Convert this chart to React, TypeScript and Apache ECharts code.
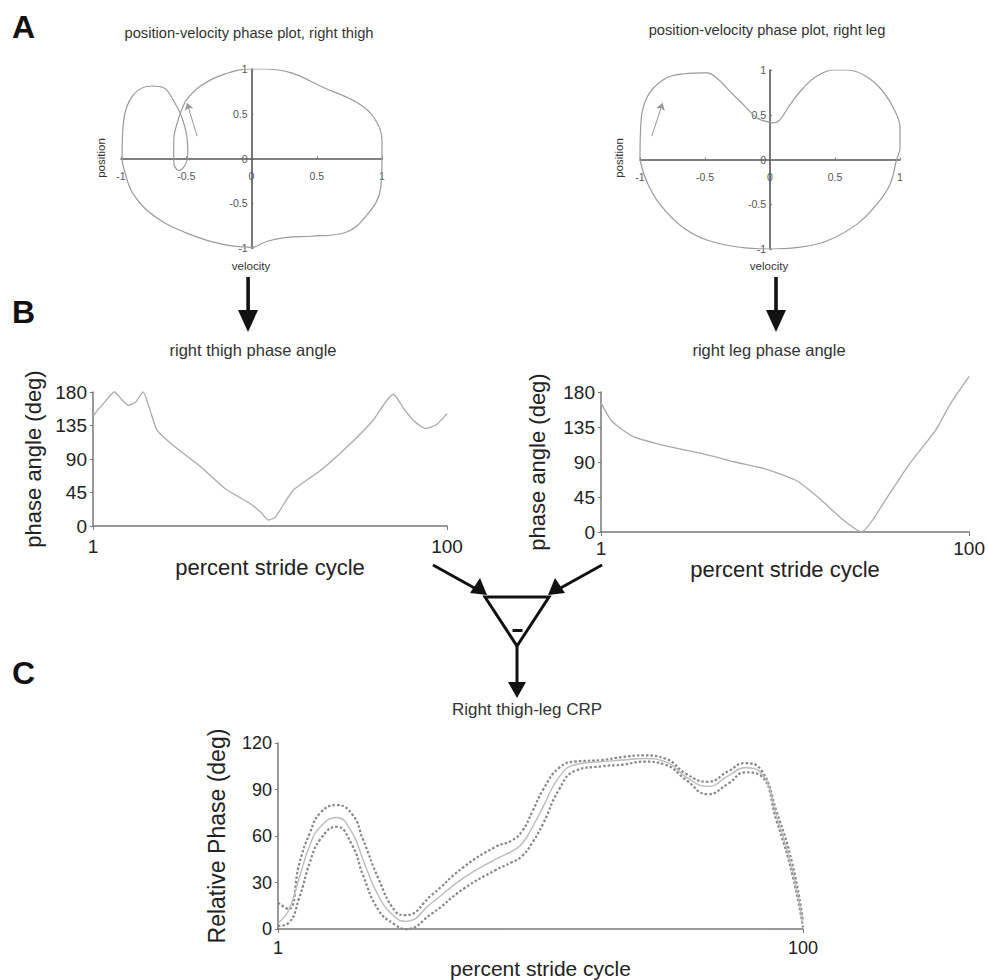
import React, { useEffect, useRef } from "react";
import * as echarts from "echarts";

// ---------- DATA ----------
// Panel A: position-velocity phase plot, right thigh (velocity, position)
const thighVel = [-0.506, -0.391, -0.212, 0, 0.095, 0.299, 0.555, 0.811, 0.939, 1.0, 1.0, 0.99, 0.887, 0.708, 0.453, 0.274, 0.12, 0, -0.212, -0.468, -0.724, -0.903, -0.98, -0.992, -0.98, -0.903, -0.762, -0.673, -0.596, -0.532, -0.494, -0.488, -0.506, -0.558, -0.596, -0.596, -0.565, -0.506];
const thighPos = [0.642, 0.81, 0.94, 1.0, 1.0, 0.959, 0.791, 0.623, 0.455, 0.194, 0, -0.328, -0.627, -0.832, -0.869, -0.881, -0.925, -0.993, -0.963, -0.851, -0.664, -0.403, -0.104, 0, 0.418, 0.716, 0.81, 0.791, 0.642, 0.455, 0.231, 0.045, -0.067, -0.134, -0.03, 0.194, 0.418, 0.642];
const thighArrow = [[-0.417, 0.25], [-0.494, 0.62]];

// Panel A: position-velocity phase plot, right leg
const legVel = [-1.0, -0.995, -0.949, -0.821, -0.667, -0.487, -0.41, -0.308, -0.205, -0.103, -0.051, 0.026, 0.077, 0.154, 0.256, 0.359, 0.487, 0.59, 0.718, 0.846, 0.949, 1.0, 1.0, 0.974, 0.923, 0.821, 0.667, 0.436, 0.205, 0, -0.205, -0.462, -0.667, -0.846, -0.949, -1.0];
const legPos = [0, 0.353, 0.688, 0.892, 0.955, 0.967, 0.911, 0.762, 0.613, 0.465, 0.435, 0.409, 0.446, 0.613, 0.799, 0.929, 1.0, 1.0, 0.948, 0.799, 0.576, 0.353, 0.13, 0, -0.279, -0.502, -0.725, -0.911, -0.985, -1.0, -0.985, -0.911, -0.762, -0.502, -0.242, 0];
const legArrow = [[-0.91, 0.26], [-0.826, 0.63]];

// Panel B: phase angles
const thighX = [1, 4, 7, 9, 11, 13, 15, 17, 19, 24, 31, 38, 45, 48, 50, 52, 57, 65, 72, 79, 85, 88, 91, 94, 97, 100];
const thighAngle = [148, 165, 180, 170, 162, 167, 180, 155, 128, 106, 80, 50, 30, 18, 8, 12, 48, 76, 106, 140, 177, 157, 140, 131, 136, 151];
const legX = [1, 4, 10, 20, 28, 37, 46, 54, 60, 66, 71, 78, 84, 91, 95, 100];
const legAngle = [166, 142, 122, 109, 101, 90, 80, 65, 42, 16, 0, 45, 88, 131, 165, 200];

// Panel C: continuous relative phase (mean and bands)
const crpX = [1, 3, 5, 7, 9, 12, 15, 17, 20, 23, 25, 30, 36, 42, 45, 47, 49, 51, 54, 57, 62, 66, 70, 74, 78, 82, 86, 89, 92, 95, 98, 100];
const crpMean = [4, 12, 33, 54, 66, 72, 62, 45, 21, 8, 5, 17, 33, 45, 50, 55, 66, 79, 98, 106, 108, 109, 110, 108, 98, 92, 99, 104, 101, 73, 38, 3];
const crpUpper = [17, 13, 42, 62, 75, 80, 74, 58, 32, 12, 9, 22, 40, 53, 57, 63, 76, 90, 104, 108, 109, 111, 112, 110, 100, 95, 102, 107, 103, 76, 42, 5];
const crpLower = [2, 4, 20, 43, 58, 66, 54, 35, 12, 3, 0, 10, 26, 38, 43, 47, 56, 68, 90, 102, 105, 106, 108, 106, 96, 87, 94, 101, 99, 70, 35, 1];
const strideTicks = [1, 100];

const FONT = "Liberation Sans, Arial, Helvetica, sans-serif";

const zip = (a: number[], b: number[]) => a.map((v, i) => [v, b[i]]);

function phaseAxes(gridIndex: number, xOffset: number, yOffset: number) {
  const common = {
    gridIndex,
    type: "value" as const,
    min: -1,
    max: 1,
    interval: 0.5,
    splitLine: { show: false },
    axisLine: { show: true, onZero: false, lineStyle: { color: "#555", width: 1.6 } },
    axisTick: { show: true, length: 2, inside: true, lineStyle: { color: "#777" } },
  };
  return {
    x: {
      ...common,
      offset: xOffset,
      axisLabel: { color: "#555", fontSize: 10.5, fontFamily: FONT, margin: 12, showMinLabel: true, showMaxLabel: true },
    },
    y: {
      ...common,
      offset: yOffset,
      axisLabel: { color: "#555", fontSize: 10.5, fontFamily: FONT, margin: 4, showMinLabel: true, showMaxLabel: true },
    },
  };
}

function strideX(gridIndex: number, margin: number, nameGap: number, labelSize: number, nameSize: number) {
  return {
    gridIndex,
    type: "value" as const,
    min: 1,
    max: 100,
    splitLine: { show: false },
    axisLine: { show: true, lineStyle: { color: "#777", width: 1.5 } },
    axisTick: { show: true, length: 4, customValues: strideTicks, lineStyle: { color: "#777" } },
    axisLabel: { customValues: strideTicks, color: "#222", fontSize: labelSize, fontFamily: FONT, margin },
    name: "percent stride cycle",
    nameLocation: "middle" as const,
    nameGap,
    nameTextStyle: { color: "#222", fontSize: nameSize, fontFamily: FONT },
  };
}

function angleY(gridIndex: number, max: number, interval: number, name: string, nameGap: number, nameSize: number, labelSize: number) {
  return {
    gridIndex,
    type: "value" as const,
    min: 0,
    max,
    interval,
    splitLine: { show: false },
    axisLine: { show: true, lineStyle: { color: "#777", width: 1.5 } },
    axisTick: { show: true, length: 3, lineStyle: { color: "#777" } },
    axisLabel: { color: "#222", fontSize: labelSize, fontFamily: FONT, margin: 6 },
    name,
    nameLocation: "middle" as const,
    nameGap,
    nameTextStyle: { color: "#222", fontSize: nameSize, fontFamily: FONT },
  };
}

function txt(text: string, x: number, y: number, size: number, extra: any = {}) {
  return {
    type: "text",
    x,
    y,
    silent: true,
    ...extra.el,
    style: {
      text,
      fontSize: size,
      fontFamily: FONT,
      fill: extra.fill || "#333",
      fontWeight: extra.weight || "normal",
      align: extra.align || "center",
      verticalAlign: "middle",
    },
  };
}

export default function App() {
  const ref = useRef<HTMLDivElement>(null);

  useEffect(() => {
    if (!ref.current) return;
    const chart = echarts.init(ref.current, undefined, { renderer: "svg" });
    const pa = phaseAxes(0, -89.5, -130.5);
    const pb = phaseAxes(1, -89.5, -130);

    const option: any = {
      animation: false,
      backgroundColor: "#fff",
      grid: [
        { left: 121, top: 69, width: 261, height: 179 },
        { left: 640, top: 70, width: 260, height: 179 },
        { left: 93, top: 392, width: 354, height: 134 },
        { left: 601, top: 392, width: 369, height: 140 },
        { left: 278, top: 743, width: 525, height: 195 },
      ],
      xAxis: [pa.x, pb.x, strideX(2, 11, 19, 19, 22), strideX(3, 7, 11, 19, 22), strideX(4, 10, 15, 18, 21)],
      yAxis: [
        pa.y,
        pb.y,
        angleY(2, 180, 45, "phase angle (deg)", 49, 22, 19),
        angleY(3, 180, 45, "phase angle (deg)", 53, 22, 19),
        angleY(4, 120, 30, "Relative Phase (deg)", 50, 23, 18),
      ],
      series: [
        {
          type: "line", xAxisIndex: 0, yAxisIndex: 0, data: zip(thighVel, thighPos),
          smooth: 0.4, showSymbol: false, lineStyle: { color: "#9a9a9a", width: 1.2 },
        },
        {
          type: "lines", coordinateSystem: "cartesian2d", xAxisIndex: 0, yAxisIndex: 0,
          symbol: ["none", "arrow"], symbolSize: 7,
          lineStyle: { color: "#999", width: 1, opacity: 1 },
          data: [{ coords: thighArrow }],
        },
        {
          type: "line", xAxisIndex: 1, yAxisIndex: 1, data: zip(legVel, legPos),
          smooth: 0.4, showSymbol: false, lineStyle: { color: "#9a9a9a", width: 1.2 },
        },
        {
          type: "lines", coordinateSystem: "cartesian2d", xAxisIndex: 1, yAxisIndex: 1,
          symbol: ["none", "arrow"], symbolSize: 7,
          lineStyle: { color: "#999", width: 1, opacity: 1 },
          data: [{ coords: legArrow }],
        },
        {
          type: "line", xAxisIndex: 2, yAxisIndex: 2, data: zip(thighX, thighAngle),
          smooth: 0.2, showSymbol: false, clip: false, lineStyle: { color: "#aaa", width: 1.3 },
        },
        {
          type: "line", xAxisIndex: 3, yAxisIndex: 3, data: zip(legX, legAngle),
          smooth: 0.2, showSymbol: false, clip: false, lineStyle: { color: "#aaa", width: 1.3 },
        },
        {
          type: "line", xAxisIndex: 4, yAxisIndex: 4, data: zip(crpX, crpUpper),
          smooth: 0.5, showSymbol: false, clip: false, lineStyle: { color: "#888", width: 2.2, type: [2.5, 2] },
        },
        {
          type: "line", xAxisIndex: 4, yAxisIndex: 4, data: zip(crpX, crpLower),
          smooth: 0.5, showSymbol: false, clip: false, lineStyle: { color: "#888", width: 2.2, type: [2.5, 2] },
        },
        {
          type: "line", xAxisIndex: 4, yAxisIndex: 4, data: zip(crpX, crpMean),
          smooth: 0.5, showSymbol: false, clip: false, lineStyle: { color: "#bbb", width: 1.4 },
        },
      ],
      graphic: [
        // panel letters
        txt("A", 12, 27, 32, { weight: "bold", align: "left", fill: "#111" }),
        txt("B", 12, 312, 32, { weight: "bold", align: "left", fill: "#111" }),
        txt("C", 12, 673, 32, { weight: "bold", align: "left", fill: "#111" }),
        // titles
        txt("position-velocity phase plot, right thigh", 249, 33, 14.7),
        txt("position-velocity phase plot, right leg", 767, 30, 14.7),
        txt("velocity", 251, 266, 11.5),
        txt("velocity", 769, 266, 11.5),
        txt("position", 101, 158, 11.5, { el: { rotation: Math.PI / 2 } }),
        txt("position", 619, 158, 11.5, { el: { rotation: Math.PI / 2 } }),
        txt("right thigh phase angle", 253, 350, 16.5),
        txt("right leg phase angle", 769, 350, 16.5),
        txt("Right thigh-leg CRP", 527, 709, 17),
        // arrows A -> B
        { type: "rect", shape: { x: 246.3, y: 277, width: 3.6, height: 36 }, style: { fill: "#111" } },
        { type: "polygon", shape: { points: [[238, 310], [258, 310], [248, 332]] }, style: { fill: "#111" } },
        { type: "rect", shape: { x: 774.2, y: 277, width: 3.6, height: 36 }, style: { fill: "#111" } },
        { type: "polygon", shape: { points: [[766, 310], [786, 310], [776, 332]] }, style: { fill: "#111" } },
        // arrows B -> triangle
        { type: "line", shape: { x1: 433, y1: 565, x2: 478, y2: 590 }, style: { stroke: "#111", lineWidth: 3 } },
        { type: "polygon", shape: { points: [[470, 593], [480, 578], [487, 595]] }, style: { fill: "#111" } },
        { type: "line", shape: { x1: 602, y1: 565, x2: 557, y2: 590 }, style: { stroke: "#111", lineWidth: 3 } },
        { type: "polygon", shape: { points: [[565, 593], [555, 578], [548, 595]] }, style: { fill: "#111" } },
        // triangle (subtraction)
        { type: "polygon", shape: { points: [[485, 597], [549, 597], [517, 646]] }, style: { fill: "none", stroke: "#111", lineWidth: 3, lineJoin: "miter" } },
        { type: "rect", shape: { x: 512.5, y: 629, width: 10, height: 3 }, style: { fill: "#111" } },
        { type: "line", shape: { x1: 517, y1: 646, x2: 517, y2: 684 }, style: { stroke: "#111", lineWidth: 3 } },
        { type: "polygon", shape: { points: [[508, 682], [526, 682], [517, 698]] }, style: { fill: "#111" } },
      ],
    };
    chart.setOption(option);
    return () => chart.dispose();
  }, []);

  return (
    <div
      ref={ref}
      style={{ position: "fixed", left: 0, top: 0, width: 988, height: 980, background: "#fff" }}
    />
  );
}
